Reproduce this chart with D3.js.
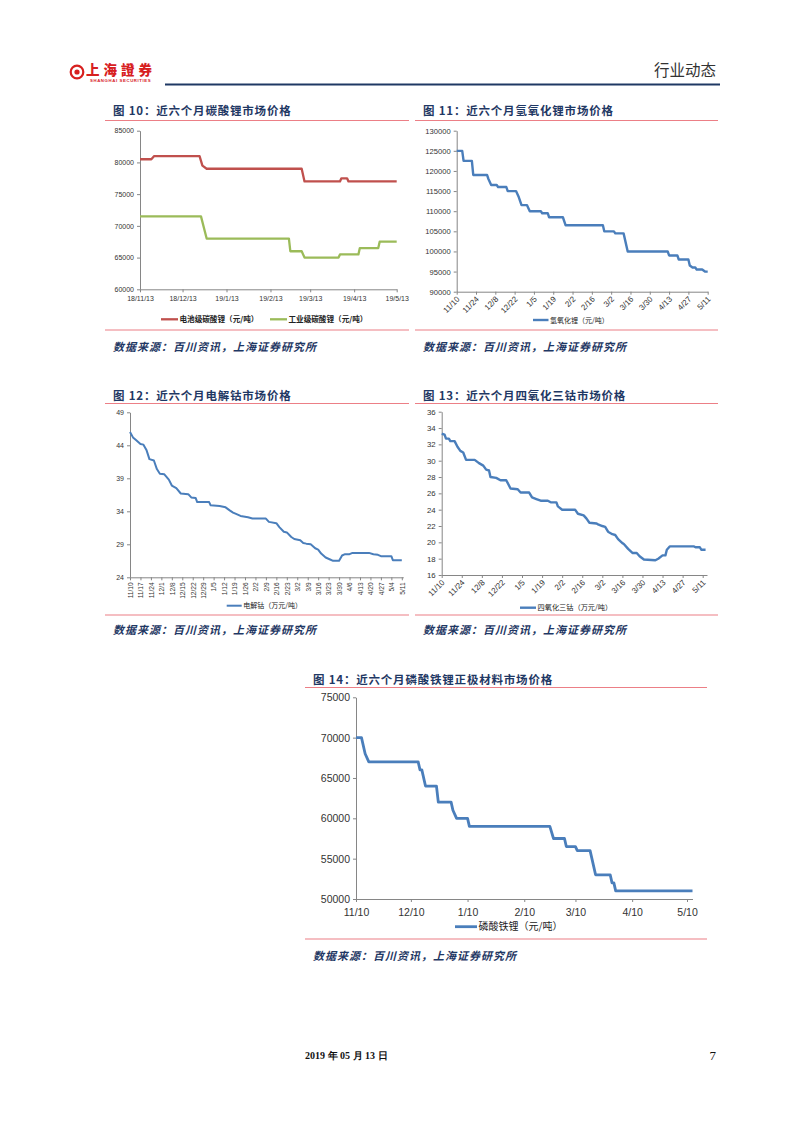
<!DOCTYPE html>
<html>
<head>
<meta charset="utf-8">
<script src="https://cdn.jsdelivr.net/npm/d3@7"></script>
<style>
  body { margin: 0; background: #fff; }
  svg { display: block; }
  .cjk { font-family: "Noto Sans CJK SC", sans-serif; }
  .title { font-size: 11.5px; font-weight: 700; fill: #1f3864; letter-spacing: 0.8px; }
  .source { font-size: 11px; font-weight: 700; font-style: italic; fill: #1f3864; letter-spacing: 1px; }
  .tick text { font-family: "Liberation Sans", Arial, sans-serif; fill: #333; }
  .axis path, .axis line { stroke: #868686; }
</style>
</head>
<body>
<svg id="page" width="802" height="1133"></svg>
<script>
// dates are m/d, Nov and Dec belong to 2018
const md = s => {
  const [m, d] = s.split('/').map(Number)
  return new Date(m >= 11 ? 2018 : 2019, m - 1, d)
}

// 图10 碳酸锂
const lcTickLabels = ['18/11/13', '18/12/13', '19/1/13', '19/2/13', '19/3/13', '19/4/13', '19/5/13']
const lcBatteryDates = ['11/13', '11/21', '11/23', '12/25', '12/27', '12/30', '3/7', '3/9', '4/3', '4/4', '4/8', '4/9', '5/13']
const lcBatteryValues = [80500, 80500, 81000, 81000, 79500, 79000, 79000, 77000, 77000, 77500, 77500, 77000, 77000]
const lcIndustrialDates = ['11/13', '12/26', '12/30', '2/26', '2/27', '3/7', '3/9', '4/2', '4/3', '4/16', '4/17', '4/30', '5/1', '5/13']
const lcIndustrialValues = [71500, 71500, 68000, 68000, 66000, 66000, 65000, 65000, 65500, 65500, 66500, 66500, 67500, 67500]

// 图11 氢氧化锂
const biweeklyLabels = ['11/10', '11/24', '12/8', '12/22', '1/5', '1/19', '2/2', '2/16', '3/2', '3/16', '3/30', '4/13', '4/27', '5/11']
const lhDates = ['11/10', '11/14', '11/15', '11/21', '11/22', '12/2', '12/3', '12/5', '12/9', '12/10', '12/16', '12/17',
  '12/23', '12/25', '12/27', '12/31', '1/2', '1/10', '1/11', '1/15', '1/16', '1/26', '1/28', '2/24', '2/25', '3/4', '3/5',
  '3/11', '3/12', '3/14', '4/12', '4/13', '4/19', '4/20', '4/27', '4/28', '4/30', '5/2', '5/3', '5/7', '5/9', '5/11']
const lhValues = [125000, 125000, 122500, 122500, 119000, 119000, 118000, 116500, 116500, 116000, 116000, 115000,
  115000, 113500, 111500, 111500, 110000, 110000, 109500, 109500, 108500, 108500, 106500, 106500, 105000, 105000, 104500,
  104500, 103000, 100000, 100000, 99000, 99000, 98000, 98000, 96500, 96000, 96000, 95500, 95500, 95000, 95000]

// 图12 电解钴
const weeklyLabels = ['11/10', '11/17', '11/24', '12/1', '12/8', '12/15', '12/22', '12/29', '1/5', '1/12', '1/19', '1/26',
  '2/2', '2/9', '2/16', '2/23', '3/2', '3/9', '3/16', '3/23', '3/30', '4/6', '4/13', '4/20', '4/27', '5/4', '5/11']
const coDates = ['11/10', '11/12', '11/14', '11/17', '11/19', '11/21', '11/23', '11/26', '11/28', '11/30', '12/3', '12/6',
  '12/8', '12/11', '12/14', '12/19', '12/21', '12/24', '12/25', '1/2', '1/3', '1/9', '1/13', '1/16', '1/18', '1/20',
  '1/23', '1/28', '1/31', '2/9', '2/11', '2/16', '2/18', '2/21', '2/23', '2/26', '2/28', '3/4', '3/6', '3/8', '3/11',
  '3/14', '3/16', '3/18', '3/21', '3/24', '3/26', '3/30', '4/1', '4/3', '4/6', '4/8', '4/19', '4/22', '4/25', '4/27',
  '5/4', '5/5', '5/11']
const coValues = [46.0, 45.2, 44.8, 44.2, 44.1, 43.3, 41.9, 41.7, 40.4, 39.7, 39.6, 38.8,
  37.9, 37.5, 36.7, 36.6, 36.1, 36.0, 35.4, 35.4, 34.9, 34.8, 34.6, 34.1, 33.8, 33.6,
  33.3, 33.1, 32.9, 32.9, 32.4, 32.2, 31.6, 30.9, 30.8, 30.1, 29.8, 29.6, 29.2, 29.1, 29.0,
  28.4, 28.2, 27.6, 27.0, 26.7, 26.5, 26.5, 27.3, 27.5, 27.5, 27.7, 27.7, 27.5, 27.4, 27.2,
  27.2, 26.6, 26.6]

// 图13 四氧化三钴
const coxDates = ['11/10', '11/12', '11/13', '11/15', '11/16', '11/19', '11/21', '11/23', '11/25', '11/27', '12/3', '12/6',
  '12/9', '12/11', '12/13', '12/14', '12/18', '12/21', '12/25', '12/28', '1/2', '1/4', '1/10', '1/12', '1/15', '1/18',
  '1/23', '1/25', '1/29', '1/30', '2/2', '2/11', '2/13', '2/17', '2/19', '2/21', '2/26', '2/27', '3/2', '3/4', '3/6',
  '3/9', '3/11', '3/13', '3/16', '3/17', '3/20', '3/23', '3/26', '3/28', '3/31', '4/8', '4/10', '4/13', '4/15', '4/16',
  '4/18', '5/5', '5/6', '5/9', '5/10', '5/13']
const coxValues = [33.3, 33.2, 32.7, 32.7, 32.4, 32.4, 31.7, 31.2, 31.0, 30.1, 30.1, 29.7,
  29.4, 28.9, 28.8, 28.0, 27.9, 27.6, 27.6, 26.6, 26.5, 26.1, 26.1, 25.5, 25.3, 25.1,
  25.1, 24.9, 24.9, 24.4, 24.0, 24.0, 23.5, 23.3, 22.9, 22.4, 22.3, 22.2, 22.0, 21.9, 21.3,
  21.0, 20.9, 20.4, 19.9, 19.8, 19.2, 18.7, 18.7, 18.3, 17.9, 17.8, 18.0, 18.4, 18.4, 19.1,
  19.5, 19.5, 19.4, 19.4, 19.1, 19.1]

// 图14 磷酸铁锂
const monthlyLabels = ['11/10', '12/10', '1/10', '2/10', '3/10', '4/10', '5/10']
const lfpDates = ['11/10', '11/13', '11/15', '11/17', '12/14', '12/15', '12/16', '12/18', '12/24', '12/25', '1/1', '1/2',
  '1/4', '1/10', '1/11', '2/24', '2/26', '3/4', '3/5', '3/10', '3/11', '3/18', '3/19', '3/21', '3/29', '3/30', '3/31',
  '4/1', '5/13']
const lfpValues = [70000, 70000, 68000, 67000, 67000, 66000, 66000, 64000, 64000, 62000, 62000, 61000,
  60000, 60000, 59000, 59000, 57500, 57500, 56500, 56500, 56000, 56000, 55000, 53000, 53000, 52000, 52000,
  51000, 51000]

const svg = d3.select('#page')
const translate = (x, y) => 'translate(' + x + ',' + y + ')'
const ruleColor = '#ec7f86'
const blue = '#4a7ebb'

function header () {
  svg.append('circle').attr('cx', 77).attr('cy', 72).attr('r', 6.3)
    .attr('fill', 'none').attr('stroke', '#d7201f').attr('stroke-width', 2.2)
  svg.append('circle').attr('cx', 77).attr('cy', 72).attr('r', 2.6).attr('fill', '#d7201f')
  svg.append('text').attr('class', 'cjk').attr('x', 86).attr('y', 75)
    .attr('font-size', 13.5).attr('font-weight', 900).attr('fill', '#d7201f')
    .attr('letter-spacing', 4).text('上海證券')
  svg.append('text').attr('x', 90).attr('y', 82.3).attr('font-size', 4.3).attr('font-weight', 700)
    .attr('font-family', 'Liberation Sans, Arial').attr('fill', '#d7201f').attr('letter-spacing', 0.6)
    .text('SHANGHAI SECURITIES')
  svg.append('line').attr('x1', 165).attr('x2', 720).attr('y1', 84.5).attr('y2', 84.5)
    .attr('stroke', '#1f3864').attr('stroke-width', 2)
  svg.append('text').attr('class', 'cjk').attr('x', 716).attr('y', 76).attr('text-anchor', 'end')
    .attr('font-size', 15.5).attr('fill', '#333').text('行业动态')
  svg.append('text').attr('x', 305).attr('y', 1058.5).attr('font-size', 10).attr('font-weight', 700)
    .attr('font-family', 'Liberation Serif, serif').attr('fill', '#111').text('2019 年 05 月 13 日')
  svg.append('text').attr('x', 716).attr('y', 1060).attr('text-anchor', 'end').attr('font-size', 13)
    .attr('font-family', 'Liberation Serif, serif').attr('fill', '#111').text('7')
}

function panel (o) {
  const g = svg.append('g')

  g.append('text').attr('class', 'cjk title').attr('x', o.textX).attr('y', o.titleY).text(o.title)
  g.append('line').attr('x1', o.ruleX[0]).attr('x2', o.ruleX[1]).attr('y1', o.ruleTop).attr('y2', o.ruleTop)
    .attr('stroke', ruleColor).attr('stroke-width', 1)
  g.append('line').attr('x1', o.ruleX[0]).attr('x2', o.ruleX[1]).attr('y1', o.ruleBottom).attr('y2', o.ruleBottom)
    .attr('stroke', ruleColor).attr('stroke-width', 1.2)
  g.append('text').attr('class', 'cjk source').attr('x', o.textX).attr('y', o.sourceY)
    .text('数据来源：百川资讯，上海证券研究所')

  const x = d3.scaleTime().domain(o.xDomain).range([o.left, o.right])
  const y = d3.scaleLinear().domain(o.yDomain).range([o.bottom, o.top])

  const yAxis = g.append('g').attr('class', 'axis').attr('transform', translate(o.left, 0))
    .call(d3.axisLeft(y).tickValues(d3.range(o.yDomain[0], o.yDomain[1] + o.yStep / 2, o.yStep))
      .tickSize(3).tickSizeOuter(0).tickPadding(3).tickFormat(d3.format('d')))
  yAxis.selectAll('text').attr('font-size', o.tickFont)

  const xAxis = g.append('g').attr('class', 'axis').attr('transform', translate(0, o.bottom))
    .call(d3.axisBottom(x).tickValues(o.xTicks.map(o.xParse))
      .tickSize(3).tickSizeOuter(0).tickFormat((d, i) => o.xTicks[i]))
  const xt = xAxis.selectAll('text').attr('font-size', o.xTickFont || o.tickFont)
  if (o.rotate === -45) {
    xt.attr('text-anchor', 'end').attr('x', 0).attr('y', 0).attr('dy', '0.35em')
      .attr('transform', 'translate(1,6) rotate(-45)')
  } else if (o.rotate === -90) {
    xt.attr('text-anchor', 'end').attr('x', 0).attr('y', 0).attr('dy', '0.35em')
      .attr('transform', 'translate(0,5) rotate(-90)')
  } else {
    xt.attr('y', o.xLabelDy)
  }
  g.selectAll('.domain').attr('stroke', '#868686')

  const line = d3.line().x(d => x(d[0])).y(d => y(d[1]))
  o.series.forEach(s => {
    const pts = s.dates.map((d, i) => [md(d), s.values[i]])
    g.append('path').attr('d', line(pts)).attr('fill', 'none')
      .attr('stroke', s.color).attr('stroke-width', o.lineWidth).attr('stroke-linejoin', 'round')
    g.append('line').attr('x1', s.legendX).attr('x2', s.legendX + o.legendLen)
      .attr('y1', o.legendY).attr('y2', o.legendY)
      .attr('stroke', s.color).attr('stroke-width', o.lineWidth)
    g.append('text').attr('class', 'cjk').attr('x', s.legendX + o.legendLen + 1.5).attr('y', o.legendY)
      .attr('dy', '0.36em').attr('font-size', o.legendFont).attr('font-weight', o.legendWeight || 400)
      .attr('fill', '#222').text(s.name)
  })
}

header()

panel({
  title: '图 10：近六个月碳酸锂市场价格', textX: 113, titleY: 115, ruleX: [105, 409], ruleTop: 120.5, ruleBottom: 330, sourceY: 351,
  left: 140, right: 396.7, top: 130.7, bottom: 289.3,
  xDomain: [md('11/13'), md('5/13')], yDomain: [60000, 85000], yStep: 5000,
  xTicks: lcTickLabels, xParse: d3.timeParse('%y/%m/%d'), xLabelDy: 7,
  tickFont: 7, lineWidth: 2.3, legendY: 319.3, legendLen: 17, legendFont: 7.6, legendWeight: 700,
  series: [
    { name: '电池级碳酸锂（元/吨）', dates: lcBatteryDates, values: lcBatteryValues, color: '#c0504d', legendX: 161 },
    { name: '工业级碳酸锂（元/吨）', dates: lcIndustrialDates, values: lcIndustrialValues, color: '#9bbb59', legendX: 270 }
  ]
})

panel({
  title: '图 11：近六个月氢氧化锂市场价格', textX: 423, titleY: 115, ruleX: [415, 718], ruleTop: 120.5, ruleBottom: 330, sourceY: 351,
  left: 456.7, right: 707.7, top: 130.7, bottom: 291.7,
  xDomain: [md('11/10'), md('5/11')], yDomain: [90000, 130000], yStep: 5000,
  xTicks: biweeklyLabels, xParse: md, rotate: -45,
  tickFont: 7.6, xTickFont: 8, lineWidth: 2.4, legendY: 320, legendLen: 15.5, legendFont: 7,
  series: [
    { name: '氢氧化锂（元/吨）', dates: lhDates, values: lhValues, color: blue, legendX: 533 }
  ]
})

panel({
  title: '图 12：近六个月电解钴市场价格', textX: 113, titleY: 400, ruleX: [105, 409], ruleTop: 403.5, ruleBottom: 615, sourceY: 634,
  left: 130, right: 403.3, top: 412.3, bottom: 577.3,
  xDomain: [md('11/10'), md('5/12')], yDomain: [24, 49], yStep: 5,
  xTicks: weeklyLabels, xParse: md, rotate: -90,
  tickFont: 7, xTickFont: 6.6, lineWidth: 2, legendY: 605.7, legendLen: 15, legendFont: 7,
  series: [
    { name: '电解钴（万元/吨）', dates: coDates, values: coValues, color: blue, legendX: 226.7 }
  ]
})

panel({
  title: '图 13：近六个月四氧化三钴市场价格', textX: 423, titleY: 400, ruleX: [415, 718], ruleTop: 403.5, ruleBottom: 615, sourceY: 634,
  left: 441.7, right: 707, top: 411.7, bottom: 575,
  xDomain: [md('11/10'), md('5/14')], yDomain: [16, 36], yStep: 2,
  xTicks: biweeklyLabels, xParse: md, rotate: -45,
  tickFont: 7.8, xTickFont: 8, lineWidth: 2.4, legendY: 607.7, legendLen: 16, legendFont: 7.2,
  series: [
    { name: '四氧化三钴（万元/吨）', dates: coxDates, values: coxValues, color: blue, legendX: 520 }
  ]
})

panel({
  title: '图 14：近六个月磷酸铁锂正极材料市场价格', textX: 313, titleY: 684, ruleX: [305, 707], ruleTop: 687.5, ruleBottom: 939, sourceY: 960,
  left: 356, right: 692.5, top: 697.3, bottom: 899,
  xDomain: [md('11/10'), md('5/13')], yDomain: [50000, 75000], yStep: 5000,
  xTicks: monthlyLabels, xParse: md, xLabelDy: 10,
  tickFont: 10.5, lineWidth: 2.8, legendY: 926.7, legendLen: 22, legendFont: 10,
  series: [
    { name: '磷酸铁锂（元/吨）', dates: lfpDates, values: lfpValues, color: blue, legendX: 455 }
  ]
})
</script>
</body>
</html>
